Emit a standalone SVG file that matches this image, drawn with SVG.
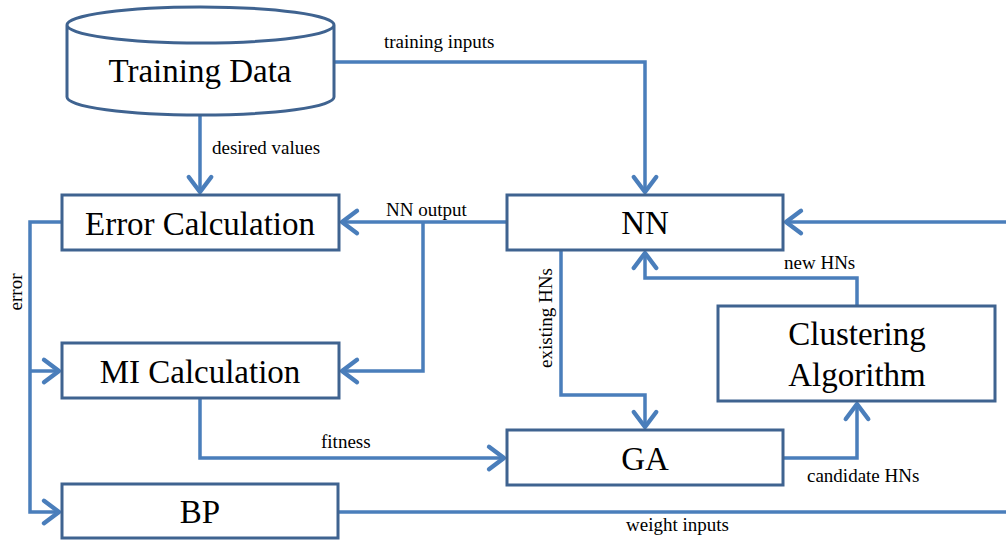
<svg xmlns="http://www.w3.org/2000/svg" width="1006" height="540" viewBox="0 0 1006 540">
<defs>
<style>
.box{fill:#fff;stroke:#3F6390;stroke-width:3}
.big{font-family:"Liberation Serif",serif;font-size:33px;fill:#000;text-anchor:middle}
.lbl{font-family:"Liberation Serif",serif;font-size:19px;fill:#000}
.ln{fill:none;stroke:#4A7EBB;stroke-width:3.5}
</style>
<marker id="arr" markerUnits="userSpaceOnUse" markerWidth="30" markerHeight="30" refX="0" refY="0" viewBox="-16 -12 20 24" orient="auto" overflow="visible">
<path d="M-12,-9 L0,0 L-12,9" fill="none" stroke="#4A7EBB" stroke-width="3.5" stroke-linejoin="round" stroke-linecap="round"/>
</marker>
</defs>
<rect width="1006" height="540" fill="#fff"/>
<g id="connectors">
<path class="ln" d="M334 62 H645 V192" marker-end="url(#arr)"/>
<path class="ln" d="M200 115 V192" marker-end="url(#arr)"/>
<path class="ln" d="M507 222 H342" marker-end="url(#arr)"/>
<path class="ln" d="M423 222 V371 H342" marker-end="url(#arr)"/>
<path class="ln" d="M62 222 H30 V512 H59" marker-end="url(#arr)"/>
<path class="ln" d="M30 371 H59" marker-end="url(#arr)"/>
<path class="ln" d="M200 398 V458 H504" marker-end="url(#arr)"/>
<path class="ln" d="M561 250 V395 H645 V427" marker-end="url(#arr)"/>
<path class="ln" d="M857 306 V278 H645 V253" marker-end="url(#arr)"/>
<path class="ln" d="M783 458 H857 V404" marker-end="url(#arr)"/>
<path class="ln" d="M338 512 H1008"/>
<path class="ln" d="M1008 222 H786" marker-end="url(#arr)"/>
<text class="lbl" x="384" y="48">training inputs</text>
<text class="lbl" x="212" y="154">desired values</text>
<text class="lbl" x="386" y="216">NN output</text>
<text class="lbl" transform="translate(22 292) rotate(-90)" text-anchor="middle">error</text>
<text class="lbl" transform="translate(552 318) rotate(-90)" text-anchor="middle">existing HNs</text>
<text class="lbl" x="784" y="269">new HNs</text>
<text class="lbl" x="321" y="448">fitness</text>
<text class="lbl" x="807" y="482">candidate HNs</text>
<text class="lbl" x="626" y="531">weight inputs</text>
</g>
<g id="training-data">
<path class="box" d="M67 25 V97 A133.5 18 0 0 0 334 97 V25 A133.5 18 0 0 0 67 25 A133.5 18 0 0 0 334 25"/>
<text class="big" x="200" y="82">Training Data</text>
</g>
<g id="error-calculation">
<rect class="box" x="62" y="195" width="277" height="55"/>
<text class="big" x="200" y="235">Error Calculation</text>
</g>
<g id="nn">
<rect class="box" x="507" y="195" width="276" height="55"/>
<text class="big" x="645" y="234">NN</text>
</g>
<g id="mi-calculation">
<rect class="box" x="62" y="343" width="277" height="55"/>
<text class="big" x="200" y="383">MI Calculation</text>
</g>
<g id="clustering-algorithm">
<rect class="box" x="718" y="306" width="277" height="95"/>
<text class="big" x="857" y="345">Clustering</text>
<text class="big" x="857" y="386">Algorithm</text>
</g>
<g id="ga">
<rect class="box" x="507" y="430" width="276" height="55"/>
<text class="big" x="645" y="470">GA</text>
</g>
<g id="bp">
<rect class="box" x="62" y="484" width="276" height="54"/>
<text class="big" x="200" y="523">BP</text>
</g>
</svg>
